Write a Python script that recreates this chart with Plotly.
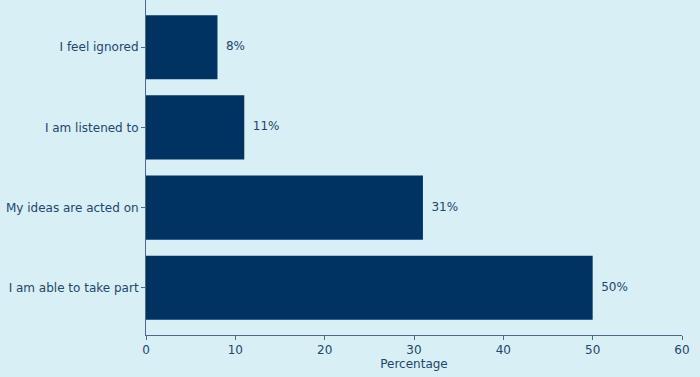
import plotly.graph_objects as go

categories = ["I am able to take part", "My ideas are acted on", "I am listened to", "I feel ignored"]
values = [50, 31, 11, 8]
labels = [f"{v}%" for v in values]
x_ticks = [0, 10, 20, 30, 40, 50, 60]

bg = "#d7eff5"
bar_color = "#003362"
text_color = "#24466a"
axis_color = "#4d6b88"
fs = 12

fig = go.Figure()
fig.add_trace(go.Bar(
    x=values, y=categories, orientation="h",
    marker=dict(color=bar_color, line=dict(width=0)),
    width=0.8, hoverinfo="skip",
))
fig.add_trace(go.Scatter(
    x=[v + 0.95 for v in values], y=categories, mode="text",
    text=labels, textposition="middle right",
    textfont=dict(family="DejaVu Sans", size=fs, color=text_color),
    hoverinfo="skip",
))
fig.update_layout(
    width=700, height=377,
    paper_bgcolor=bg, plot_bgcolor=bg,
    margin=dict(l=146, r=18, t=0, b=42),
    showlegend=False,
    font=dict(family="DejaVu Sans", size=fs, color=text_color),
)
fig.update_xaxes(
    range=[0, 60], tickvals=x_ticks, showgrid=False, zeroline=False,
    showline=True, linecolor=axis_color, linewidth=1,
    ticks="outside", ticklen=4, tickcolor=axis_color,
    title=dict(text="Percentage", standoff=1, font=dict(size=fs)),
    tickfont=dict(size=fs),
)
fig.update_yaxes(
    type="category", categoryorder="array", categoryarray=categories,
    range=[-0.59, 3.59], showgrid=False, zeroline=False,
    showline=True, linecolor=axis_color, linewidth=1,
    ticks="outside", ticklen=4, tickcolor=axis_color,
    tickfont=dict(size=fs),
)
fig.write_html(
    "out.html",
    config={"displayModeBar": False},
    post_script="document.body.style.margin='0';document.body.style.padding='0';document.body.style.background='" + bg + "';",
)
